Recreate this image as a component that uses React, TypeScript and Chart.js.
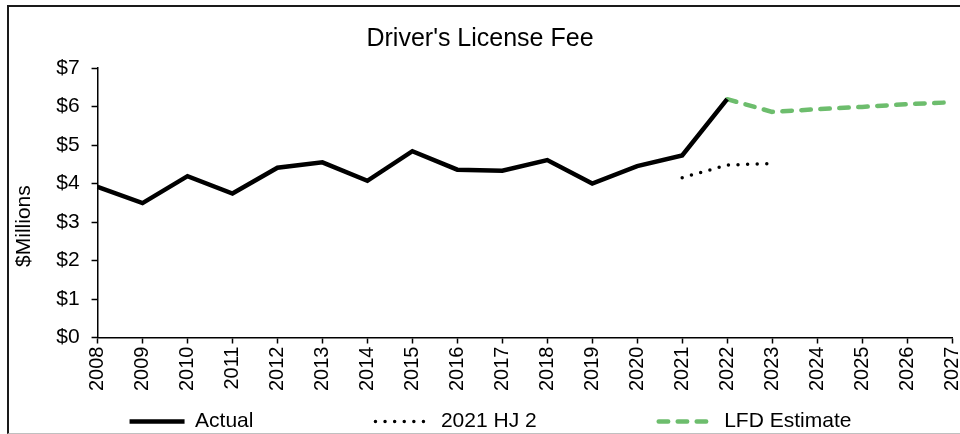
import { useEffect, useRef } from 'react';
import { Chart, registerables } from 'chart.js';

Chart.register(...registerables);

const years = ['2008', '2009', '2010', '2011', '2012', '2013', '2014', '2015', '2016', '2017', '2018', '2019', '2020', '2021', '2022', '2023', '2024', '2025', '2026', '2027'];
const actualValues = [3.91, 3.49, 4.19, 3.74, 4.41, 4.55, 4.07, 4.84, 4.36, 4.33, 4.61, 4.0, 4.45, 4.73, 6.19, null, null, null, null, null];
const hj2Values = [null, null, null, null, null, null, null, null, null, null, null, null, null, 4.15, 4.48, 4.52, null, null, null, null];
const lfdValues = [null, null, null, null, null, null, null, null, null, null, null, null, null, null, 6.19, 5.86, 5.93, 5.99, 6.06, 6.11];
const seriesNames = ['Actual', '2021 HJ 2', 'LFD Estimate'];
const yTickValues = [0, 1, 2, 3, 4, 5, 6, 7];
const chartTitle = "Driver's License Fee";
const yAxisTitle = '$Millions';

const FONT = "'Liberation Sans', Arial, Helvetica, sans-serif";
const GREEN = '#6dbd6d';

export default function App() {
  const canvasRef = useRef<HTMLCanvasElement | null>(null);

  useEffect(() => {
    const canvas = canvasRef.current;
    if (!canvas) return;

    const legendShift = {
      id: 'legendShift',
      afterLayout(chart: any) {
        const l = chart.legend;
        if (l) {
          l.left += 15;
          l.right += 15;
        }
      },
    };

    const chart = new Chart(canvas, {
      type: 'line',
      data: {
        labels: years,
        datasets: [
          {
            label: seriesNames[0],
            data: actualValues,
            borderColor: '#000000',
            backgroundColor: '#000000',
            borderWidth: 4.5,
            pointRadius: 0,
            borderJoinStyle: 'miter',
            borderCapStyle: 'butt',
            spanGaps: false,
            tension: 0,
          },
          {
            label: seriesNames[1],
            data: hj2Values,
            borderColor: '#000000',
            backgroundColor: '#000000',
            borderWidth: 3.5,
            borderDash: [0, 9.6],
            borderCapStyle: 'round',
            pointRadius: 0,
            tension: 0,
          },
          {
            label: seriesNames[2],
            data: lfdValues,
            borderColor: GREEN,
            backgroundColor: GREEN,
            borderWidth: 4.5,
            borderDash: [9.5, 9.5],
            borderCapStyle: 'round',
            pointRadius: 0,
            tension: 0,
          },
        ],
      },
      options: {
        animation: false,
        responsive: false,
        maintainAspectRatio: false,
        devicePixelRatio: 1,
        layout: { padding: { left: 8, right: 8, top: 12, bottom: 0 } },
        plugins: {
          title: {
            display: true,
            text: chartTitle,
            color: '#000000',
            font: { family: FONT, size: 25, weight: 'normal' },
            padding: { top: 12, bottom: 14 },
          },
          legend: {
            display: true,
            position: 'bottom',
            align: 'start',
            fullSize: false,
            maxHeight: 40,
            labels: {
              color: '#000000',
              font: { family: FONT, size: 21 },
              usePointStyle: true,
              pointStyle: 'line',
              pointStyleWidth: 55,
              padding: 17,
              generateLabels(chart: any) {
                const items = Chart.defaults.plugins.legend.labels.generateLabels(chart);
                return items.map((it: any, i: number) => {
                  const ds: any = chart.data.datasets[it.datasetIndex ?? i];
                  if (i < 2) it.text = it.text + ' '.repeat(18);
                  it.pointStyle = 'line';
                  it.lineWidth = ds.borderWidth;
                  it.lineDash = ds.borderDash || [];
                  it.lineCap = ds.borderCapStyle || 'butt';
                  it.strokeStyle = ds.borderColor;
                  it.fillStyle = ds.borderColor;
                  return it;
                });
              },
            },
          },
          tooltip: { enabled: false },
        },
        scales: {
          x: {
            type: 'category',
            offset: false,
            grid: {
              display: true,
              drawOnChartArea: false,
              drawTicks: true,
              tickLength: 6,
              tickWidth: 1.5,
              tickColor: '#000000',
            },
            border: { display: true, color: '#000000', width: 1.5 },
            ticks: {
              autoSkip: false,
              maxRotation: 90,
              minRotation: 90,
              padding: 3,
              color: '#000000',
              font: { family: FONT, size: 20 },
            },
            afterFit(scale: any) {
              scale.paddingRight = 0;
              scale.paddingLeft = 0;
            },
          },
          y: {
            min: 0,
            max: 7,
            afterBuildTicks(scale: any) {
              scale.ticks = yTickValues.map((v) => ({ value: v }));
            },
            grid: {
              display: true,
              drawOnChartArea: false,
              drawTicks: true,
              tickLength: 6,
              tickWidth: 1.5,
              tickColor: '#000000',
            },
            border: { display: true, color: '#000000', width: 1.5 },
            ticks: {
              padding: 12,
              color: '#000000',
              font: { family: FONT, size: 21 },
              callback: (v: any) => '$' + v,
            },
            title: {
              display: true,
              text: yAxisTitle + ' '.repeat(8),
              color: '#000000',
              font: { family: FONT, size: 21 },
              padding: { top: 4, bottom: 7 },
            },
          },
        },
      },
      plugins: [legendShift],
    } as any);

    return () => chart.destroy();
  }, []);

  return (
    <div style={{ position: 'fixed', left: 0, top: 0, width: 960, height: 434, overflow: 'hidden', background: '#ffffff' }}>
      <div
        style={{
          position: 'absolute',
          left: 7,
          top: 5,
          width: 1000,
          height: 426,
          borderTop: '2px solid #1a1a1a',
          borderLeft: '2px solid #1a1a1a',
          borderBottom: '1px solid #c0c0c0',
          boxSizing: 'content-box',
        }}
      />
      <canvas ref={canvasRef} width={960} height={434} style={{ position: 'absolute', left: 0, top: 0, width: 960, height: 434 }} />
    </div>
  );
}
